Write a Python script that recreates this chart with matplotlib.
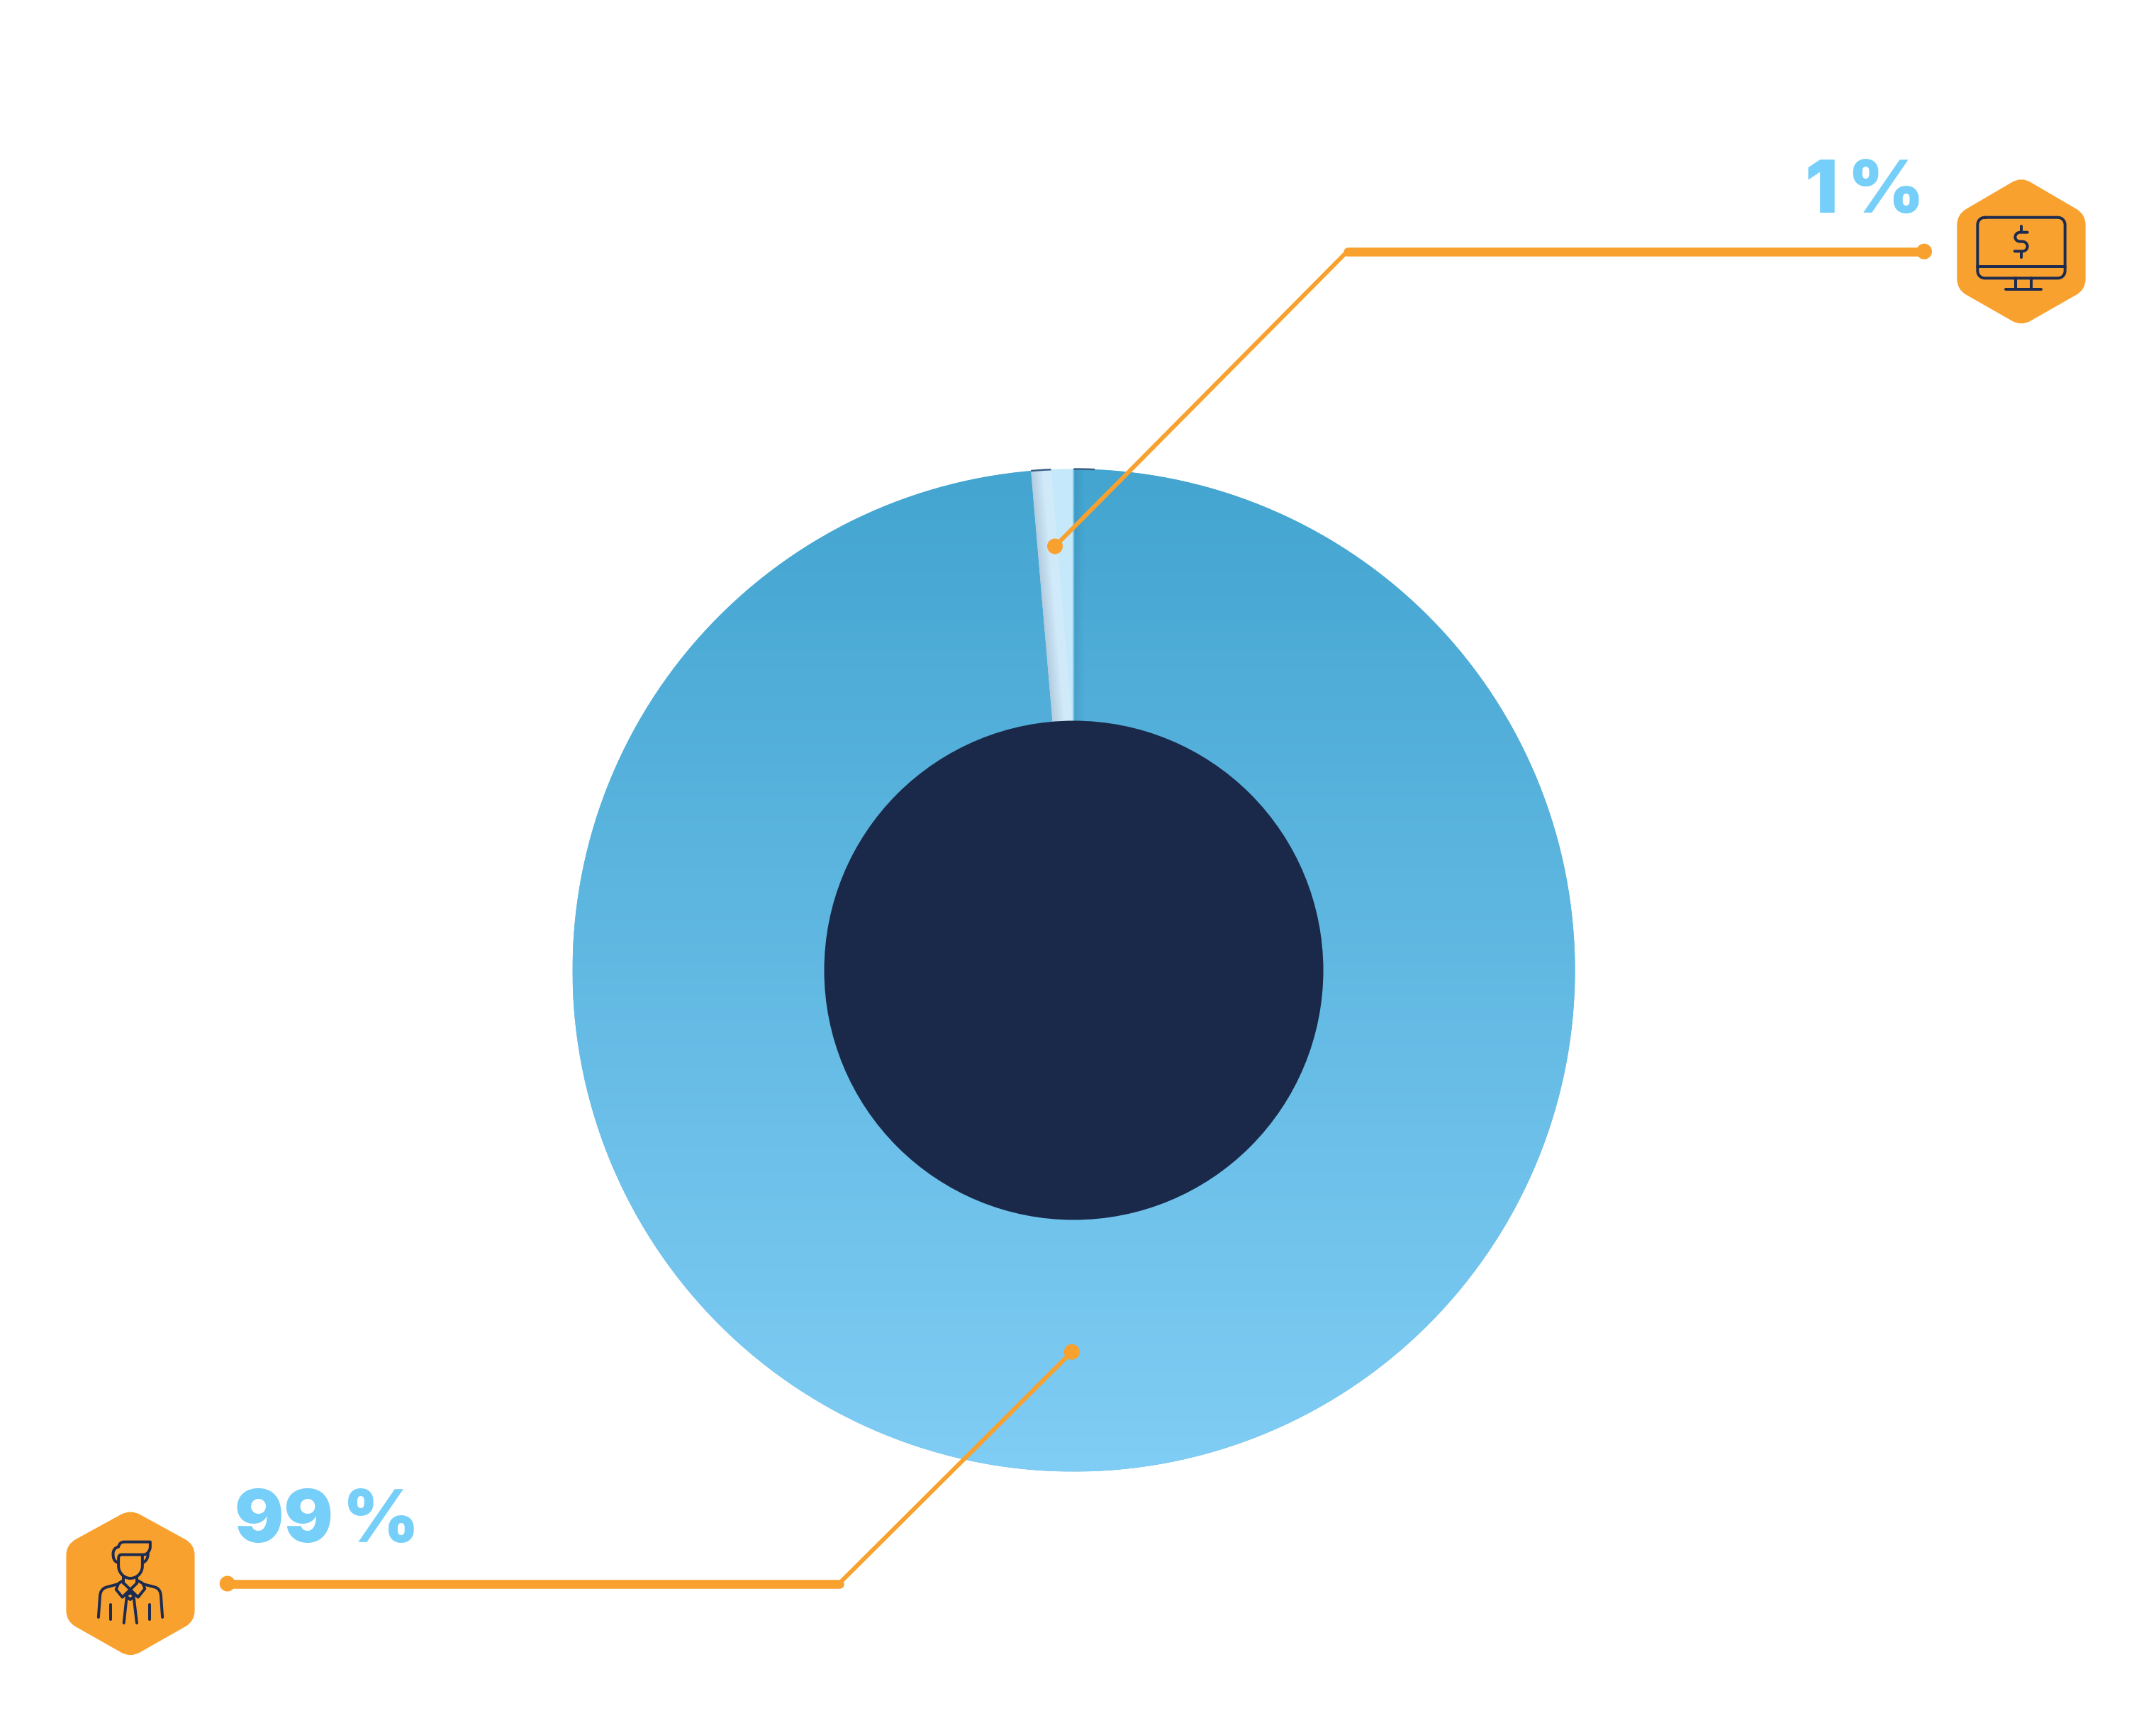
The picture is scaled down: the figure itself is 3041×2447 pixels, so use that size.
import numpy as np
import matplotlib
matplotlib.use("Agg")
import matplotlib.pyplot as plt
from matplotlib.path import Path
from matplotlib.patches import PathPatch, Circle, Arc
from matplotlib.colors import to_rgb

W, H = 3041, 2447
# Data: the labels, and the angular share each slice actually occupies in the picture
labels = ["1\u2009%", "99\u2009%"]
label_values = [1, 99]
slice_shares = [1.36, 98.64]

ORANGE = "#F9A12E"; NAVY = "#1A2849"; LABEL = "#75CFF9"
PX = 72 / 100  # points per output pixel

fig = plt.figure(figsize=(W / 100, H / 100), dpi=100, facecolor="white")
ax = fig.add_axes([0, 0, 1, 1])

def Y(y):
    return H - y

cx, cy, R, r_in = 1514.5, 1368.5, 707.0, 352.0

wedges, _ = ax.pie(slice_shares, startangle=90, center=(cx, Y(cy)), radius=R, frame=True,
                   colors=["#D0EAFA", "#5FB5DF"], wedgeprops=dict(linewidth=0))
small, big = wedges

# vertical gradient of the ring
top, bot = np.array(to_rgb("#43A5D0")), np.array(to_rgb("#80CDF5"))
t = np.linspace(0, 1, 512)[:, None, None]
grad = top[None, None, :] * (1 - t) + bot[None, None, :] * t
im = ax.imshow(grad, extent=(cx - R, cx + R, Y(cy + R), Y(cy - R)), origin="upper", aspect="auto", zorder=1.1)
im.set_clip_path(big)

# shadow right of the slice
sh = np.zeros((2, 64, 4)); sh[..., 0:3] = to_rgb("#2D6E94")
sh[..., 3] = np.linspace(0.2, 0.0, 64)
im2 = ax.imshow(sh, extent=(cx + 1, cx + 15, Y(cy - 100), Y(cy - R - 2)), origin="upper", aspect="auto", zorder=1.2)
im2.set_clip_path(big)

# shading inside the slice
x0, x1, y0, y1 = 1445, 1520, 655, 1030
xs, ys = np.meshgrid(np.arange(x0, x1) + .5, np.arange(y0, y1) + .5)
edge = cx - (cy - ys) * np.tan(np.radians(slice_shares[0] * 3.6))
d = xs - edge
tone = 1482.7 + (ys - 662) * (1511.7 - 1482.7) / (1016 - 662)
img = np.zeros(xs.shape + (3,))
a, b, c, e = [np.array(to_rgb(k)) for k in ("#B4CCDF", "#D0EAFA", "#C5E9FA", "#8FC3DF")]
img[:] = b
img[xs > tone] = c
f = np.clip(d / 17, 0, 1)[..., None]
mask = (d < 17)[..., None]
img = np.where(mask, a * (1 - f) + b * f, img)
img[xs > cx - 2] = e
im3 = ax.imshow(img, extent=(x0, x1, Y(y1), Y(y0)), origin="upper", aspect="auto", zorder=1.3)
im3.set_clip_path(small)

# thin dark marks along the rim
for th1, th2 in ((87.6, 90.0), (92.6, 94.9)):
    ax.add_patch(Arc((cx, Y(cy)), 2 * R, 2 * R, theta1=th1, theta2=th2, color="#3C5F85", lw=2.5 * PX, zorder=1.4))

# centre disc
ax.add_patch(Circle((cx, Y(cy)), r_in, fc=NAVY, ec="none", zorder=2))

# leader lines
def leader(dot, join, h0, h1, hy):
    ax.plot([dot[0], join[0]], [Y(dot[1]), Y(join[1])], color=ORANGE, lw=6 * PX, zorder=3, solid_capstyle="round")
    ax.plot([h0, h1], [Y(hy), Y(hy)], color=ORANGE, lw=12.5 * PX, zorder=3, solid_capstyle="round")
    for p in (dot, (h1, hy)):
        ax.add_patch(Circle((p[0], Y(p[1])), 11, fc=ORANGE, ec="none", zorder=3))

leader((1488, 770.5), (1899, 356), 1901, 2714, 354.7)
leader((1511.7, 1906.7), (1186, 2231), 1184, 320.7, 2233.5)

# value labels
font = dict(family=["Inter", "DejaVu Sans"], weight=900, color=LABEL, va="baseline", ha="left", zorder=3)
ax.text(2546, Y(300), labels[0], fontsize=74, **font)
ax.text(331, Y(2175), labels[1], fontsize=74, **font)

# icons, drawn in zoom-crop coordinates
def hexagon(tf, l, r, t_, ty, by, b_):
    mx = (l + r) / 2
    pts = [(mx, t_), (r, ty), (r, by), (mx, b_), (l, by), (l, ty)]
    v, c_ = [], []
    n = len(pts)
    for i in range(n):
        p = np.array(pts[i]); pr = np.array(pts[i - 1]); nx = np.array(pts[(i + 1) % n])
        s = p + (pr - p) / np.linalg.norm(pr - p) * 45
        q = p + (nx - p) / np.linalg.norm(nx - p) * 45
        v += [s, p, q]
        c_ += [Path.MOVETO if i == 0 else Path.LINETO, Path.CURVE3, Path.CURVE3]
    v.append(v[0]); c_.append(Path.CLOSEPOLY)
    ax.add_patch(PathPatch(Path([tf(*x) for x in v], c_), fc=ORANGE, ec="none", zorder=3))

def svg(tf, spec, lw=4.0):
    """spec: M x y / L x y / C x1 y1 x2 y2 x y"""
    v, c_ = [], []
    tok = spec.split(); i = 0
    while i < len(tok):
        k = tok[i]; i += 1
        if k in "ML":
            v.append(tf(float(tok[i]), float(tok[i + 1]))); c_.append(Path.MOVETO if k == "M" else Path.LINETO); i += 2
        else:
            for _ in range(3):
                v.append(tf(float(tok[i]), float(tok[i + 1]))); c_.append(Path.CURVE4); i += 2
    ax.add_patch(PathPatch(Path(v, c_), fc="none", ec="#1C2B4F", lw=lw * PX, zorder=4, capstyle="round", joinstyle="round"))

tf1 = lambda x, y: (x / 3 + 2520, Y(y / 3 + 190))
hexagon(tf1, 721, 1265, 178, 337, 655, 810)
for s in ["M 840 350 L 1146 350 C 1165 350 1178 363 1178 382 L 1178 575 C 1178 594 1165 607 1146 607 L 840 607 C 821 607 808 594 808 575 L 808 382 C 808 363 821 350 840 350",
          "M 808 557 L 1178 557",
          "M 970 607 L 970 655", "M 1035 607 L 1035 655", "M 926 655 L 1076 655",
          "M 992 388 L 992 410", "M 992 497 L 992 520",
          "M 1019 413 L 988 413 C 975 413 967 423 967 433 C 967 445 977 452 988 452 L 998 452 C 1010 452 1019 462 1019 472 C 1019 484 1010 493 998 493 L 965 493"]:
    svg(tf1, s)

tf2 = lambda x, y: (x / 2.9037 + 70, Y(y / 3 + 2070))
hexagon(tf2, 68, 594, 176, 325, 650, 804)
for s in ["M 275 400 C 262 392 260 380 260 365 C 260 345 270 338 282 335 C 285 322 292 314 305 314 L 412 314 L 412 335 C 412 350 400 368 385 368 L 295 368 C 285 368 282 375 282 385 L 282 415 C 282 445 305 468 330 468 C 358 468 380 445 380 415 L 380 372",
          "M 403 365 C 402 385 395 395 382 402",
          "M 303 462 L 303 490", "M 358 462 L 358 490",
          "M 305 490 L 362 548 L 390 512 L 382 490 L 362 478",
          "M 356 490 L 298 548 L 272 515 L 282 490 L 300 478",
          "M 278 493 L 235 505 C 215 510 207 525 206 545 L 200 633",
          "M 385 493 L 430 505 C 448 510 455 525 456 545 L 462 633",
          "M 251 578 L 251 643", "M 410 578 L 410 643",
          "M 315 552 L 304 657", "M 345 552 L 357 657",
          "M 315 545 L 330 558 L 345 545", "M 318 538 L 330 528 L 342 538"]:
    svg(tf2, s)

ax.set_xlim(0, W)
ax.set_ylim(0, H)
ax.set_aspect("auto")
ax.axis("off")
fig.savefig("out.png", dpi=100, facecolor="white")
